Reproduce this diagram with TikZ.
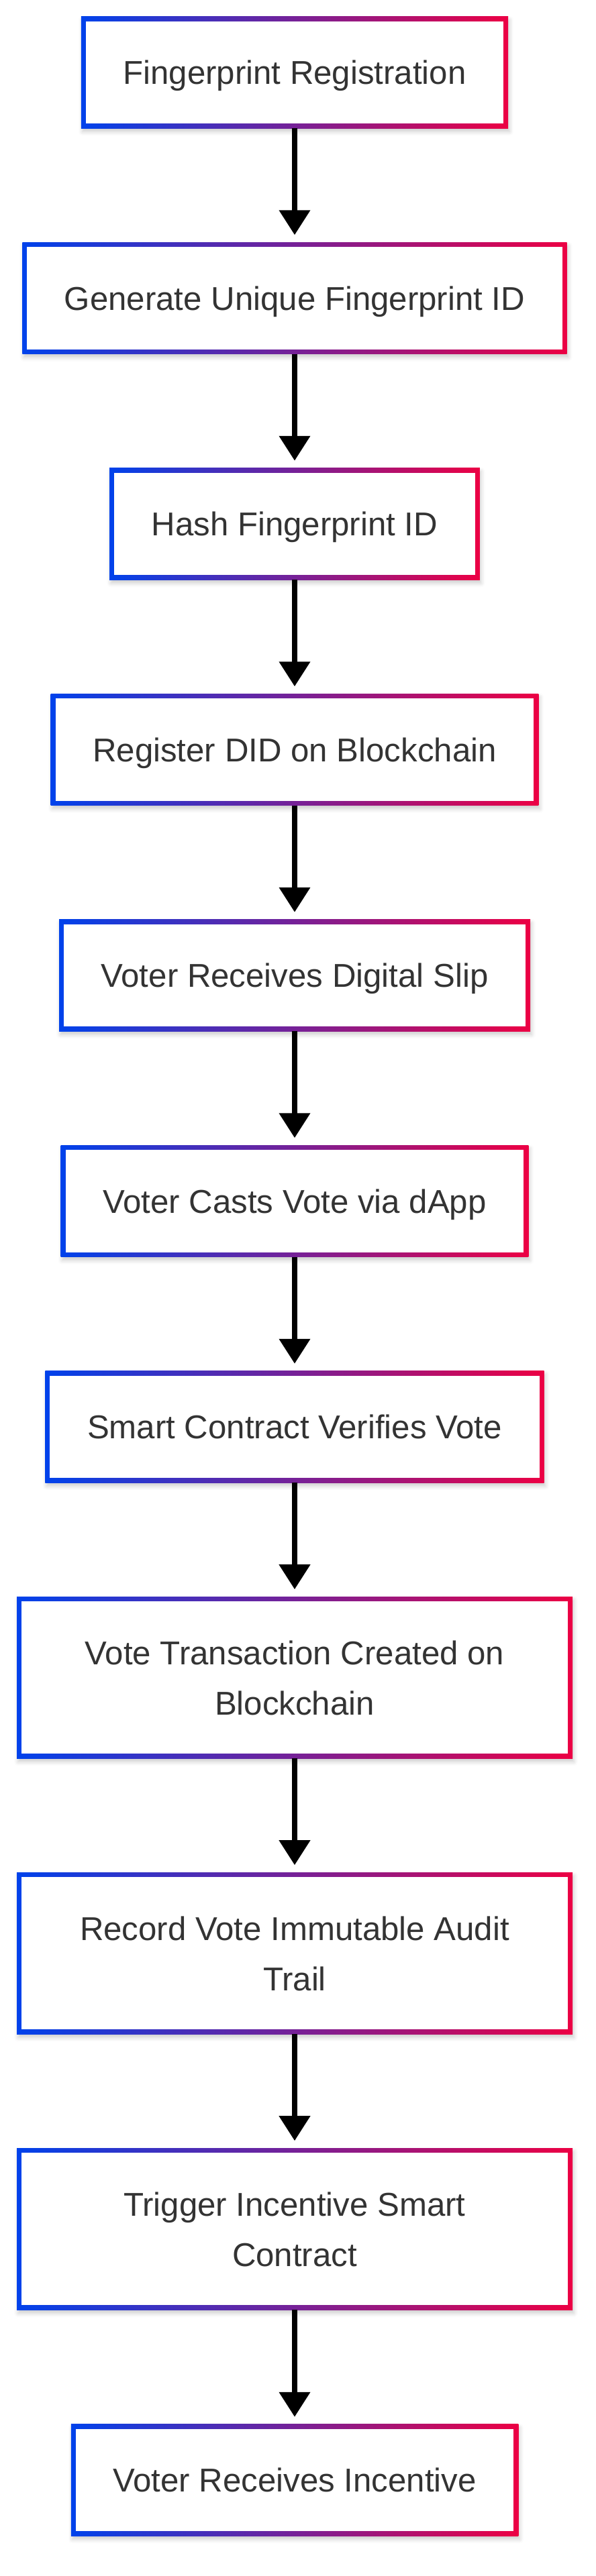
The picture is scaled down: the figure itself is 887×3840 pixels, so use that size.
\documentclass[tikz,border=0pt]{standalone}
\usepackage{fontspec}
\setmainfont{Liberation Sans}
\usetikzlibrary{arrows.meta,shadows.blur}
\definecolor{flowblue}{RGB}{0,66,235}
\definecolor{flowred}{RGB}{236,0,68}
\definecolor{flowtext}{RGB}{51,51,51}

\begin{document}
\begin{tikzpicture}[x=1pt,y=-1pt,
  stepbox/.style={rectangle, outer sep=0pt, inner xsep=62.5pt, inner ysep=0pt,
    minimum height=166.5pt, left color=flowblue, right color=flowred,
    blur shadow={shadow xshift=2pt, shadow yshift=-5pt, shadow blur radius=6pt, shadow opacity=20},
    path picture={\fill[white] ([shift={(7pt,7pt)}]path picture bounding box.south west) rectangle ([shift={(-7pt,-7pt)}]path picture bounding box.north east);},
    font=\fontsize{49.2}{75}\selectfont, text=flowtext, text depth=0pt},
  widebox/.style={stepbox, minimum width=828pt, minimum height=241pt, align=center},
  flow/.style={line width=7.5pt, -{Triangle[length=37pt,width=45pt]}, shorten >=11pt}]
\useasboundingbox (0,0) rectangle (887,3840);

\node[stepbox] (reg) at (439,108) {Fingerprint Registration};

\node[stepbox] (genid) at (439,444.5) {Generate Unique Fingerprint ID};

\node[stepbox] (hash) at (439,781) {Hash Fingerprint ID};

\node[stepbox] (did) at (439,1117.5) {Register DID on Blockchain};

\node[stepbox] (slip) at (439,1454) {Voter Receives Digital Slip};

\node[stepbox] (cast) at (439,1790.5) {Voter Casts Vote via dApp};

\node[stepbox] (verify) at (439,2127) {Smart Contract Verifies Vote};

\node[widebox] (txn) at (439,2500.7) {Vote Transaction Created on\\Blockchain};

\node[widebox] (audit) at (439,2911.7) {Record Vote Immutable Audit\\Trail};

\node[widebox] (trigger) at (439,3322.7) {Trigger Incentive Smart\\Contract};

\node[stepbox] (reward) at (439,3697) {Voter Receives Incentive};

\draw[flow] (reg) -- (genid);

\draw[flow] (genid) -- (hash);

\draw[flow] (hash) -- (did);

\draw[flow] (did) -- (slip);

\draw[flow] (slip) -- (cast);

\draw[flow] (cast) -- (verify);

\draw[flow] (verify) -- (txn);

\draw[flow] (txn) -- (audit);

\draw[flow] (audit) -- (trigger);

\draw[flow] (trigger) -- (reward);
\end{tikzpicture}
\end{document}
